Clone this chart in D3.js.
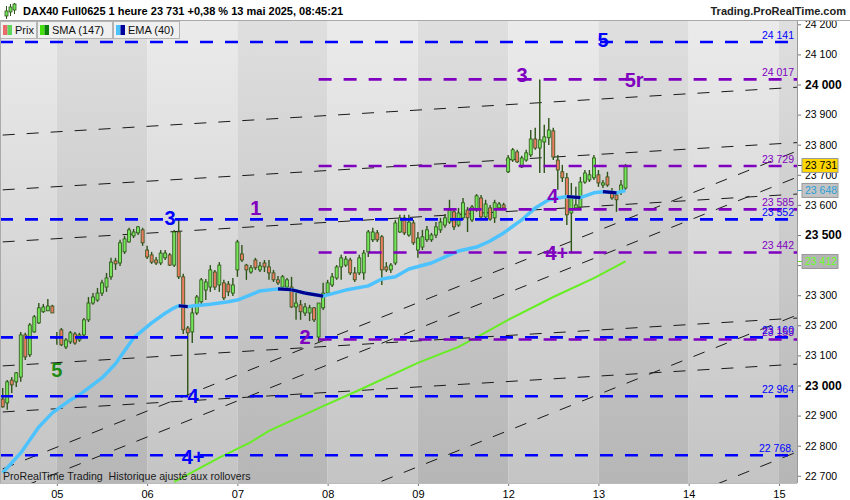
<!DOCTYPE html>
<html>
<head>
<meta charset="utf-8">
<script src="https://cdnjs.cloudflare.com/ajax/libs/d3/7.8.5/d3.min.js"></script>
<style>
  body { margin: 0; background: #fff; }
  svg { display: block; font-family: "Liberation Sans", Arial, sans-serif; }
</style>
</head>
<body>
<svg id="chart" width="850" height="500"></svg>
<script>
// hourly bars, index 0 = first visible bar (friday 02)
const dayLabels = ['02', '05', '06', '07', '08', '09', '12', '13', '14', '15'];
const dayStart = [-8, 12, 32, 52, 72, 92, 112, 132, 152, 172];

const open = [
  22955, 22942, 23018, 23012, 23028, 23168, 23102, 23178, 23208, 23245, 23248, 23264,
  23161, 23185, 23128, 23145, 23171, 23151, 23168, 23218, 23274, 23284, 23307, 23327, 23361, 23414, 23407, 23444, 23477, 23497, 23507, 23517,
  23450, 23434, 23417, 23407, 23424, 23434, 23400, 23510, 23361, 23191, 23178, 23241, 23278, 23317, 23327, 23377, 23334, 23341, 23337, 23307,
  23384, 23437, 23400, 23377, 23417, 23384, 23407, 23394, 23374, 23351, 23327, 23327, 23327, 23261, 23268, 23241, 23241, 23258, 23161, 23258,
  23307, 23334, 23357, 23394, 23400, 23417, 23374, 23374, 23374, 23444, 23484, 23507, 23494, 23394, 23384, 23407, 23510, 23557, 23500, 23540,
  23450, 23460, 23484, 23484, 23500, 23517, 23533, 23543, 23577, 23533, 23557, 23583, 23550, 23583, 23623, 23560, 23590, 23557, 23590, 23600,
  23710, 23749, 23776, 23726, 23749, 23766, 23819, 23789, 23809, 23823, 23846, 23749, 23710, 23690, 23573, 23590, 23593, 23676, 23683, 23690,
  23700, 23666, 23693, 23643, 23633, 23643, 23656
];
const high = [
  22992, 23018, 23028, 23045, 23178, 23175, 23208, 23234, 23274, 23271, 23287, 23268,
  23178, 23191, 23158, 23181, 23178, 23175, 23224, 23294, 23307, 23324, 23351, 23374, 23424, 23424, 23484, 23497, 23524, 23520, 23530, 23524,
  23464, 23444, 23427, 23450, 23450, 23440, 23517, 23550, 23371, 23198, 23261, 23301, 23357, 23354, 23400, 23384, 23410, 23351, 23347, 23357,
  23484, 23467, 23404, 23400, 23424, 23410, 23417, 23417, 23384, 23364, 23367, 23357, 23361, 23307, 23284, 23274, 23268, 23261, 23274, 23341,
  23351, 23374, 23400, 23434, 23430, 23424, 23394, 23434, 23450, 23517, 23524, 23517, 23500, 23410, 23407, 23550, 23567, 23567, 23567, 23550,
  23510, 23517, 23530, 23507, 23543, 23557, 23570, 23617, 23587, 23590, 23623, 23593, 23600, 23636, 23633, 23617, 23600, 23617, 23610, 23607,
  23766, 23789, 23783, 23763, 23783, 23849, 23856, 24017, 23866, 23889, 23856, 23766, 23733, 23706, 23673, 23660, 23693, 23716, 23716, 23766,
  23716, 23683, 23710, 23656, 23643, 23683, 23736
];
const low = [
  22926, 22919, 22975, 22995, 23012, 23085, 23095, 23175, 23204, 23241, 23248, 23241,
  23135, 23131, 23121, 23138, 23135, 23145, 23161, 23211, 23268, 23278, 23297, 23311, 23351, 23384, 23397, 23437, 23474, 23490, 23500, 23464,
  23420, 23404, 23400, 23400, 23417, 23397, 23394, 23354, 23171, 22962, 23141, 23234, 23268, 23284, 23311, 23317, 23311, 23284, 23297, 23297,
  23361, 23410, 23351, 23371, 23384, 23377, 23377, 23351, 23344, 23334, 23317, 23314, 23258, 23218, 23218, 23231, 23214, 23211, 23141, 23251,
  23301, 23327, 23351, 23351, 23394, 23367, 23344, 23367, 23351, 23427, 23477, 23477, 23334, 23377, 23374, 23400, 23507, 23500, 23494, 23467,
  23424, 23450, 23477, 23477, 23490, 23507, 23524, 23537, 23517, 23527, 23550, 23510, 23543, 23577, 23553, 23553, 23547, 23540, 23583, 23583,
  23706, 23743, 23739, 23723, 23743, 23759, 23783, 23706, 23706, 23799, 23749, 23650, 23676, 23533, 23440, 23583, 23590, 23670, 23676, 23683,
  23660, 23656, 23660, 23617, 23577, 23633, 23650
];
const close = [
  22929, 23012, 23002, 23042, 23168, 23095, 23201, 23228, 23258, 23261, 23264, 23241,
  23158, 23135, 23151, 23175, 23141, 23168, 23218, 23274, 23294, 23307, 23341, 23357, 23410, 23404, 23474, 23487, 23517, 23510, 23527, 23474,
  23427, 23410, 23407, 23440, 23440, 23400, 23510, 23361, 23185, 23175, 23241, 23294, 23351, 23344, 23384, 23327, 23400, 23291, 23311, 23334,
  23477, 23417, 23384, 23391, 23391, 23397, 23394, 23374, 23351, 23341, 23361, 23351, 23261, 23274, 23245, 23261, 23258, 23218, 23274, 23307,
  23341, 23361, 23394, 23424, 23420, 23374, 23351, 23424, 23440, 23510, 23510, 23484, 23384, 23384, 23400, 23540, 23557, 23507, 23543, 23474,
  23490, 23494, 23517, 23500, 23527, 23543, 23557, 23583, 23527, 23573, 23607, 23557, 23593, 23630, 23560, 23603, 23553, 23607, 23603, 23590,
  23756, 23783, 23743, 23756, 23773, 23819, 23789, 23816, 23826, 23849, 23759, 23716, 23690, 23567, 23626, 23600, 23676, 23706, 23700, 23756,
  23673, 23673, 23666, 23623, 23617, 23666, 23731
];

// EMA (40) and SMA (147)
const emaIdx = [0, 4, 8, 11, 15, 17, 22, 25, 29, 33, 36, 38, 39, 41, 42, 46, 50, 52, 57, 61, 64, 67, 71, 72, 76, 81, 84, 87, 90, 95, 98, 101, 105, 108, 111, 115, 118, 121, 125, 128, 131, 133, 136, 138];
const emaVal = [22710, 22776, 22862, 22909, 22952, 22969, 23025, 23072, 23158, 23208, 23240, 23258, 23265, 23262, 23264, 23270, 23278, 23284, 23314, 23321, 23318, 23307, 23297, 23301, 23317, 23331, 23354, 23361, 23387, 23407, 23427, 23447, 23460, 23480, 23507, 23550, 23590, 23617, 23628, 23624, 23640, 23644, 23640, 23648];
const smaIdx = [38, 48, 55, 59, 72, 79, 92, 101, 106, 112, 122, 131, 138];
const smaVal = [22680, 22760, 22812, 22849, 22938, 22985, 23075, 23128, 23168, 23218, 23294, 23357, 23412];

// horizontal levels
const blueLevels = [24141, 23552, 23160, 22964, 22768];
const blueLabels = ['24 141', '23 552', '23 160', '22 964', '22 768.'];
const purpleLevels = [24017, 23729, 23585, 23442, 23153];
const purpleLabels = ['24 017', '23 729', '23 585', '23 442', '23 153'];
const purpleFrom = 70;

// trend lines: price at bar 0 and at bar 176
const trendBars = [0, 176];
const trendFlat = [[23832, 23991], [23650, 23807], [23477, 23636], [23065, 23224], [22912, 23071]];
const trendSteep = [[22723, 23779], [22637, 23692], [22178, 23234], [21723, 22779]];

// wave counts
const waveText = ['5', '3', '4', '4+', '1', '2', '3', '4', '4+', '5r', '5'];
const waveBar = [133, 37.1, 42.2, 42.2, 56.1, 67, 115.1, 121.9, 122.8, 139.9, 12];
const wavePrice = [24148, 23557, 22965, 22763, 23590, 23161, 24032, 23630, 23440, 24015, 23052];
const waveDegree = ['major', 'major', 'major', 'major', 'minor', 'minor', 'minor', 'minor', 'minor', 'minor', 'prior'];

const priceTicks = d3.range(22700, 24201, 100);

const W = 850, H = 500;
const plot = { left: 0, right: 797, top: 21, bottom: 483 };
const degreeColor = { major: '#0000ff', minor: '#8000c0', prior: '#1e8a12' };

const fr = d3.formatLocale({ decimal: ',', thousands: ' ', grouping: [3], currency: ['', ' €'] });
const fmt = fr.format(',d');

const x = d3.scaleLinear().domain([-0.6, 176]).range([plot.left, plot.right]);
const y = d3.scaleLinear().domain([22676, 24211]).range([plot.bottom, plot.top]);

const svg = d3.select('#chart');
const defs = svg.append('defs');

const grad = (id, top, bottom) => {
  const g = defs.append('linearGradient').attr('id', id)
    .attr('gradientUnits', 'userSpaceOnUse')
    .attr('x1', 0).attr('x2', 0).attr('y1', plot.top).attr('y2', plot.bottom);
  g.append('stop').attr('offset', 0).attr('stop-color', top);
  g.append('stop').attr('offset', 1).attr('stop-color', bottom);
};
grad('bandLight', '#ebebeb', '#c4c4c4');
grad('bandDark', '#dfdfdf', '#b6b6b6');

defs.append('clipPath').attr('id', 'plotClip').append('rect')
  .attr('x', plot.left).attr('y', plot.top)
  .attr('width', plot.right - plot.left).attr('height', plot.bottom - plot.top);

svg.append('rect').attr('width', W).attr('height', H).attr('fill', '#fff');

const g = svg.append('g').attr('clip-path', 'url(#plotClip)');

// day bands
const bandEnds = dayStart.slice(1).concat([192]);
g.selectAll('rect.band')
  .data(dayStart)
  .enter()
  .append('rect')
  .attr('class', 'band')
  .attr('x', d => x(d))
  .attr('y', plot.top)
  .attr('width', (d, i) => x(bandEnds[i]) - x(d))
  .attr('height', plot.bottom - plot.top)
  .attr('fill', (d, i) => (i % 2 === 0 ? 'url(#bandLight)' : 'url(#bandDark)'));

// trend lines
const drawTrend = (list) => {
  g.selectAll(null)
    .data(list)
    .enter()
    .append('line')
    .attr('x1', x(trendBars[0]))
    .attr('x2', x(trendBars[1]))
    .attr('y1', d => y(d[0]))
    .attr('y2', d => y(d[1]))
    .attr('stroke', '#1a1a1a')
    .attr('stroke-width', 1)
    .attr('stroke-dasharray', '12,12');
};
drawTrend(trendFlat);
drawTrend(trendSteep);

// SMA
const line = d3.line().x(d => x(d[0])).y(d => y(d[1]));
g.append('path')
  .attr('d', line(smaIdx.map((d, i) => [d, smaVal[i]])))
  .attr('fill', 'none')
  .attr('stroke', '#66ee22')
  .attr('stroke-width', 2);

// candles
const candles = open.map((o, i) => ({ i, o, h: high[i], l: low[i], c: close[i] }));
const cg = g.append('g');
cg.selectAll('line')
  .data(candles)
  .enter()
  .append('line')
  .attr('x1', d => x(d.i))
  .attr('x2', d => x(d.i))
  .attr('y1', d => y(d.h))
  .attr('y2', d => y(d.l))
  .attr('stroke', '#2d5417')
  .attr('stroke-width', 1.4);
cg.selectAll('rect')
  .data(candles)
  .enter()
  .append('rect')
  .attr('x', d => x(d.i) - 1.5)
  .attr('y', d => y(Math.max(d.o, d.c)))
  .attr('width', 3)
  .attr('height', d => Math.max(1, Math.abs(y(d.o) - y(d.c))))
  .attr('fill', d => (d.c >= d.o ? '#74e45a' : '#ea7c64'))
  .attr('stroke', '#2d5417')
  .attr('stroke-width', 0.8);

// EMA, navy where it turns down
const emaPts = emaIdx.map((d, i) => [d, emaVal[i]]);
g.append('path')
  .attr('d', line(emaPts))
  .attr('fill', 'none')
  .attr('stroke', '#4cc3ff')
  .attr('stroke-width', 3.5)
  .attr('stroke-linejoin', 'round');
const downSegs = emaPts.slice(1).map((p, i) => [emaPts[i], p]).filter(s => s[1][1] < s[0][1]);
g.selectAll(null)
  .data(downSegs)
  .enter()
  .append('path')
  .attr('d', d => line(d))
  .attr('fill', 'none')
  .attr('stroke', '#00008c')
  .attr('stroke-width', 3.2);

// horizontal levels
const drawLevels = (levels, labels, color, from) => {
  g.selectAll(null)
    .data(levels)
    .enter()
    .append('line')
    .attr('x1', x(from))
    .attr('x2', plot.right)
    .attr('y1', d => y(d))
    .attr('y2', d => y(d))
    .attr('stroke', color)
    .attr('stroke-width', 2.6)
    .attr('stroke-dasharray', '13,12');
  svg.selectAll(null)
    .data(levels)
    .enter()
    .append('text')
    .attr('x', plot.right - 3)
    .attr('y', d => y(d) - 3)
    .attr('text-anchor', 'end')
    .attr('font-size', 10.5)
    .attr('fill', color)
    .text((d, i) => labels[i]);
};
drawLevels(blueLevels, blueLabels, '#0000ff', -0.6);
drawLevels(purpleLevels, purpleLabels, '#8000c0', purpleFrom);

// wave labels
svg.selectAll('text.wave')
  .data(waveText)
  .enter()
  .append('text')
  .attr('class', 'wave')
  .attr('x', (d, i) => x(waveBar[i]))
  .attr('y', (d, i) => y(wavePrice[i]))
  .attr('dy', '0.36em')
  .attr('text-anchor', 'middle')
  .attr('font-size', 20)
  .attr('font-weight', 'bold')
  .attr('fill', (d, i) => degreeColor[waveDegree[i]])
  .text(d => d);

// footer note
svg.append('text')
  .attr('x', 3)
  .attr('y', plot.bottom - 3)
  .attr('font-size', 10.6)
  .attr('fill', '#1a1a1a')
  .style('white-space', 'pre')
  .text('ProRealTime Trading  Historique ajusté aux rollovers');

// right axis
svg.append('rect').attr('x', plot.right).attr('y', plot.top)
  .attr('width', W - plot.right).attr('height', H - plot.top).attr('fill', '#fff');
const yAxis = svg.append('g')
  .attr('transform', `translate(${plot.right},0)`)
  .call(d3.axisRight(y).tickValues(priceTicks).tickSize(4).tickPadding(4).tickFormat(fmt));
yAxis.select('.domain').remove();
yAxis.selectAll('line').attr('stroke', '#777');
yAxis.selectAll('text')
  .attr('fill', '#000')
  .attr('font-family', '"Liberation Sans", Arial, sans-serif')
  .attr('font-size', d => (d % 500 === 0 ? 12 : 10.5))
  .attr('font-weight', d => (d % 500 === 0 ? 'bold' : 'normal'));
svg.append('line')
  .attr('x1', plot.right + 0.5).attr('x2', plot.right + 0.5)
  .attr('y1', plot.top).attr('y2', plot.bottom)
  .attr('stroke', '#999');

// last value boxes
const boxes = [
  { v: close[close.length - 1], fill: '#ffd700', text: '#000', tick: '#333' },
  { v: emaVal[emaVal.length - 1], fill: '#c4c4c4', text: '#2a9fd8', tick: '#2a9fd8' },
  { v: smaVal[smaVal.length - 1], fill: '#b4b4b4', text: '#66ff22', tick: '#55dd11' }
];
const bx = svg.selectAll('g.box').data(boxes).enter().append('g')
  .attr('transform', d => `translate(${plot.right},${y(d.v)})`);
bx.append('line').attr('x1', 1).attr('x2', 5).attr('stroke', d => d.tick);
bx.append('rect').attr('x', 5).attr('y', -7).attr('width', 36).attr('height', 14)
  .attr('fill', d => d.fill).attr('stroke', '#999');
bx.append('text').attr('x', 8).attr('dy', '0.36em').attr('font-size', 10.5)
  .attr('fill', d => d.text).text(d => fmt(d.v));

// bottom axis
svg.append('rect').attr('x', 0).attr('y', plot.bottom).attr('width', W).attr('height', H - plot.bottom).attr('fill', '#fff');
const xTicks = dayStart.filter(d => d >= x.domain()[0] && d <= x.domain()[1]);
const xAxis = svg.append('g')
  .attr('transform', `translate(0,${plot.bottom})`)
  .call(d3.axisBottom(x).tickValues(xTicks).tickSize(3).tickPadding(4)
    .tickFormat(d => dayLabels[dayStart.indexOf(d)]));
xAxis.select('.domain').remove();
xAxis.selectAll('line').attr('stroke', '#777');
xAxis.selectAll('text').attr('fill', '#000').attr('font-size', 11)
  .attr('font-family', '"Liberation Sans", Arial, sans-serif');
svg.append('line').attr('x1', 0).attr('x2', plot.right).attr('y1', plot.bottom + 0.5).attr('y2', plot.bottom + 0.5)
  .attr('stroke', '#bbb');
svg.append('line').attr('x1', 0.5).attr('x2', 0.5).attr('y1', plot.top).attr('y2', plot.bottom)
  .attr('stroke', '#aaa');

// title bar
svg.append('rect').attr('width', W).attr('height', plot.top - 1).attr('fill', '#fff');
svg.append('line').attr('x1', 0).attr('x2', W).attr('y1', plot.top - 0.5).attr('y2', plot.top - 0.5).attr('stroke', '#a8a8a8');
const icon = svg.append('g').attr('transform', 'translate(4,3)');
[[1, 8, 5, 3, 14], [5, 4, 5, 1, 11], [9, 1, 6, 0, 9]].forEach(c => {
  icon.append('line').attr('x1', c[0] + 1.5).attr('x2', c[0] + 1.5).attr('y1', c[3]).attr('y2', c[4] + 2)
    .attr('stroke', '#2d5417');
  icon.append('rect').attr('x', c[0]).attr('y', c[1]).attr('width', 3).attr('height', c[2])
    .attr('fill', '#74e45a').attr('stroke', '#2d5417').attr('stroke-width', 0.8);
});
svg.append('text').attr('x', 23).attr('y', 14.5).attr('font-size', 11).attr('font-weight', 'bold')
  .attr('fill', '#000').text('DAX40 Full0625 1 heure 23 731 +0,38 % 13 mai 2025, 08:45:21');
svg.append('text').attr('x', 846).attr('y', 14.5).attr('text-anchor', 'end').attr('font-size', 11)
  .attr('font-weight', 'bold').attr('fill', '#222').text('Trading.ProRealTime.com');

// legend row
const legend = [
  { name: 'Prix', c1: '#ea6a6a', c2: '#5ed65e', w: 37 },
  { name: 'SMA (147)', c1: '#44e010', c2: '#08800a', w: 76 },
  { name: 'EMA (40)', c1: '#4cc3ff', c2: '#00009c', w: 67 }
];
let lx = 0;
legend.forEach(l => {
  const lg = svg.append('g').attr('transform', `translate(${lx},${plot.top})`);
  lg.append('rect').attr('x', 0.5).attr('y', 0.5).attr('width', l.w - 1).attr('height', 17)
    .attr('fill', '#f0f0f0').attr('stroke', '#b4b4b4');
  lg.append('rect').attr('x', 3).attr('y', 4).attr('width', 4.5).attr('height', 10).attr('fill', l.c1);
  lg.append('rect').attr('x', 7.5).attr('y', 4).attr('width', 4.5).attr('height', 10).attr('fill', l.c2);
  lg.append('text').attr('x', 15).attr('y', 13).attr('font-size', 11).attr('fill', '#111').text(l.name);
  lx += l.w;
});
</script>
</body>
</html>
